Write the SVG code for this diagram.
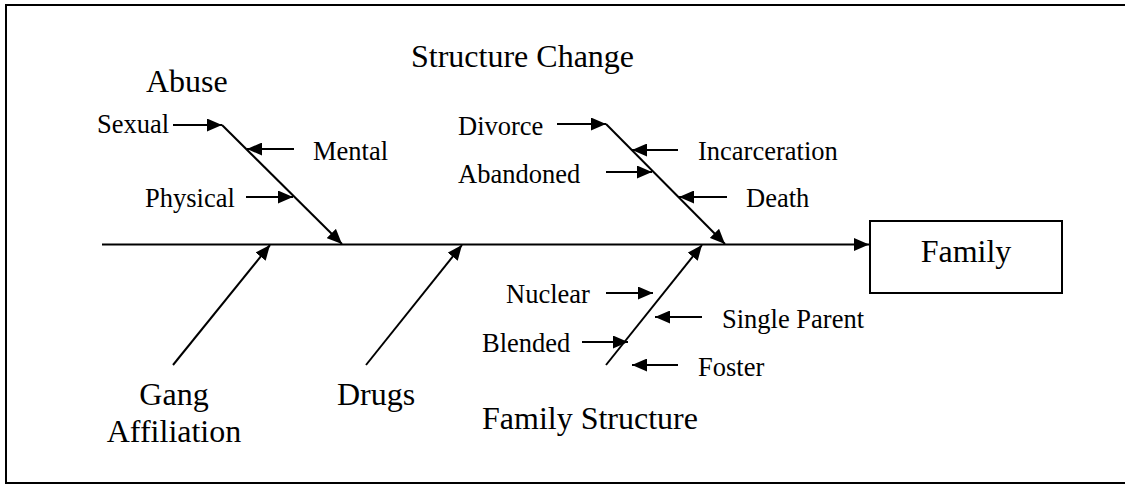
<svg xmlns="http://www.w3.org/2000/svg" width="1125" height="485" viewBox="0 0 1125 485">
<style>
.ln{stroke:#000;stroke-width:2;fill:none;marker-end:url(#ah)}
.sm{font-family:"Liberation Serif","Times New Roman",serif;font-size:26.5px;fill:#000}
.lg{font-family:"Liberation Serif","Times New Roman",serif;font-size:32px;fill:#000}
</style>
<defs>
<marker id="ah" markerUnits="userSpaceOnUse" markerWidth="16" markerHeight="13" refX="15" refY="6.5" orient="auto">
<path d="M0,0 L15,6.5 L0,13 z" fill="#000"/>
</marker>
</defs>
<rect x="6" y="5" width="1140" height="478" fill="#fff" stroke="#000" stroke-width="2"/>
<g id="connectors">
<line class="ln" x1="102" y1="244.5" x2="869" y2="244.5"/>
<line class="ln" x1="222" y1="125" x2="342" y2="244"/>
<line class="ln" x1="173" y1="125" x2="222" y2="125"/>
<line class="ln" x1="294" y1="149" x2="247" y2="149"/>
<line class="ln" x1="246" y1="197" x2="293" y2="197"/>
<line class="ln" x1="606" y1="124" x2="725" y2="244"/>
<line class="ln" x1="557" y1="124" x2="606" y2="124"/>
<line class="ln" x1="678" y1="150" x2="632" y2="150"/>
<line class="ln" x1="606" y1="172" x2="652" y2="172"/>
<line class="ln" x1="727" y1="197" x2="679" y2="197"/>
<line class="ln" x1="173" y1="365" x2="270" y2="245"/>
<line class="ln" x1="366" y1="365" x2="462" y2="245"/>
<line class="ln" x1="606" y1="365" x2="702" y2="245"/>
<line class="ln" x1="606" y1="293" x2="653" y2="293"/>
<line class="ln" x1="702" y1="317" x2="655" y2="317"/>
<line class="ln" x1="582" y1="342" x2="628" y2="342"/>
<line class="ln" x1="678" y1="365" x2="632" y2="365"/>
</g>
<g id="family">
<rect x="870" y="221" width="192" height="72" fill="#fff" stroke="#000" stroke-width="2"/>
<text class="lg" x="966" y="262" text-anchor="middle">Family</text>
</g>
<g id="abuse">
<text class="lg" x="146" y="92">Abuse</text>
<text class="sm" x="97" y="133">Sexual</text>
<text class="sm" x="313" y="160">Mental</text>
<text class="sm" x="145" y="207">Physical</text>
</g>
<g id="structure-change">
<text class="lg" x="411" y="67">Structure Change</text>
<text class="sm" x="458" y="135">Divorce</text>
<text class="sm" x="698" y="160">Incarceration</text>
<text class="sm" x="458" y="183">Abandoned</text>
<text class="sm" x="746" y="207">Death</text>
</g>
<g id="gang">
<text class="lg" x="174" y="405" text-anchor="middle">Gang</text>
<text class="lg" x="174" y="442" text-anchor="middle">Affiliation</text>
</g>
<g id="drugs">
<text class="lg" x="337" y="405">Drugs</text>
</g>
<g id="family-structure">
<text class="lg" x="482" y="429">Family Structure</text>
<text class="sm" x="506" y="303">Nuclear</text>
<text class="sm" x="722" y="328">Single Parent</text>
<text class="sm" x="482" y="352">Blended</text>
<text class="sm" x="698" y="376">Foster</text>
</g>
</svg>
